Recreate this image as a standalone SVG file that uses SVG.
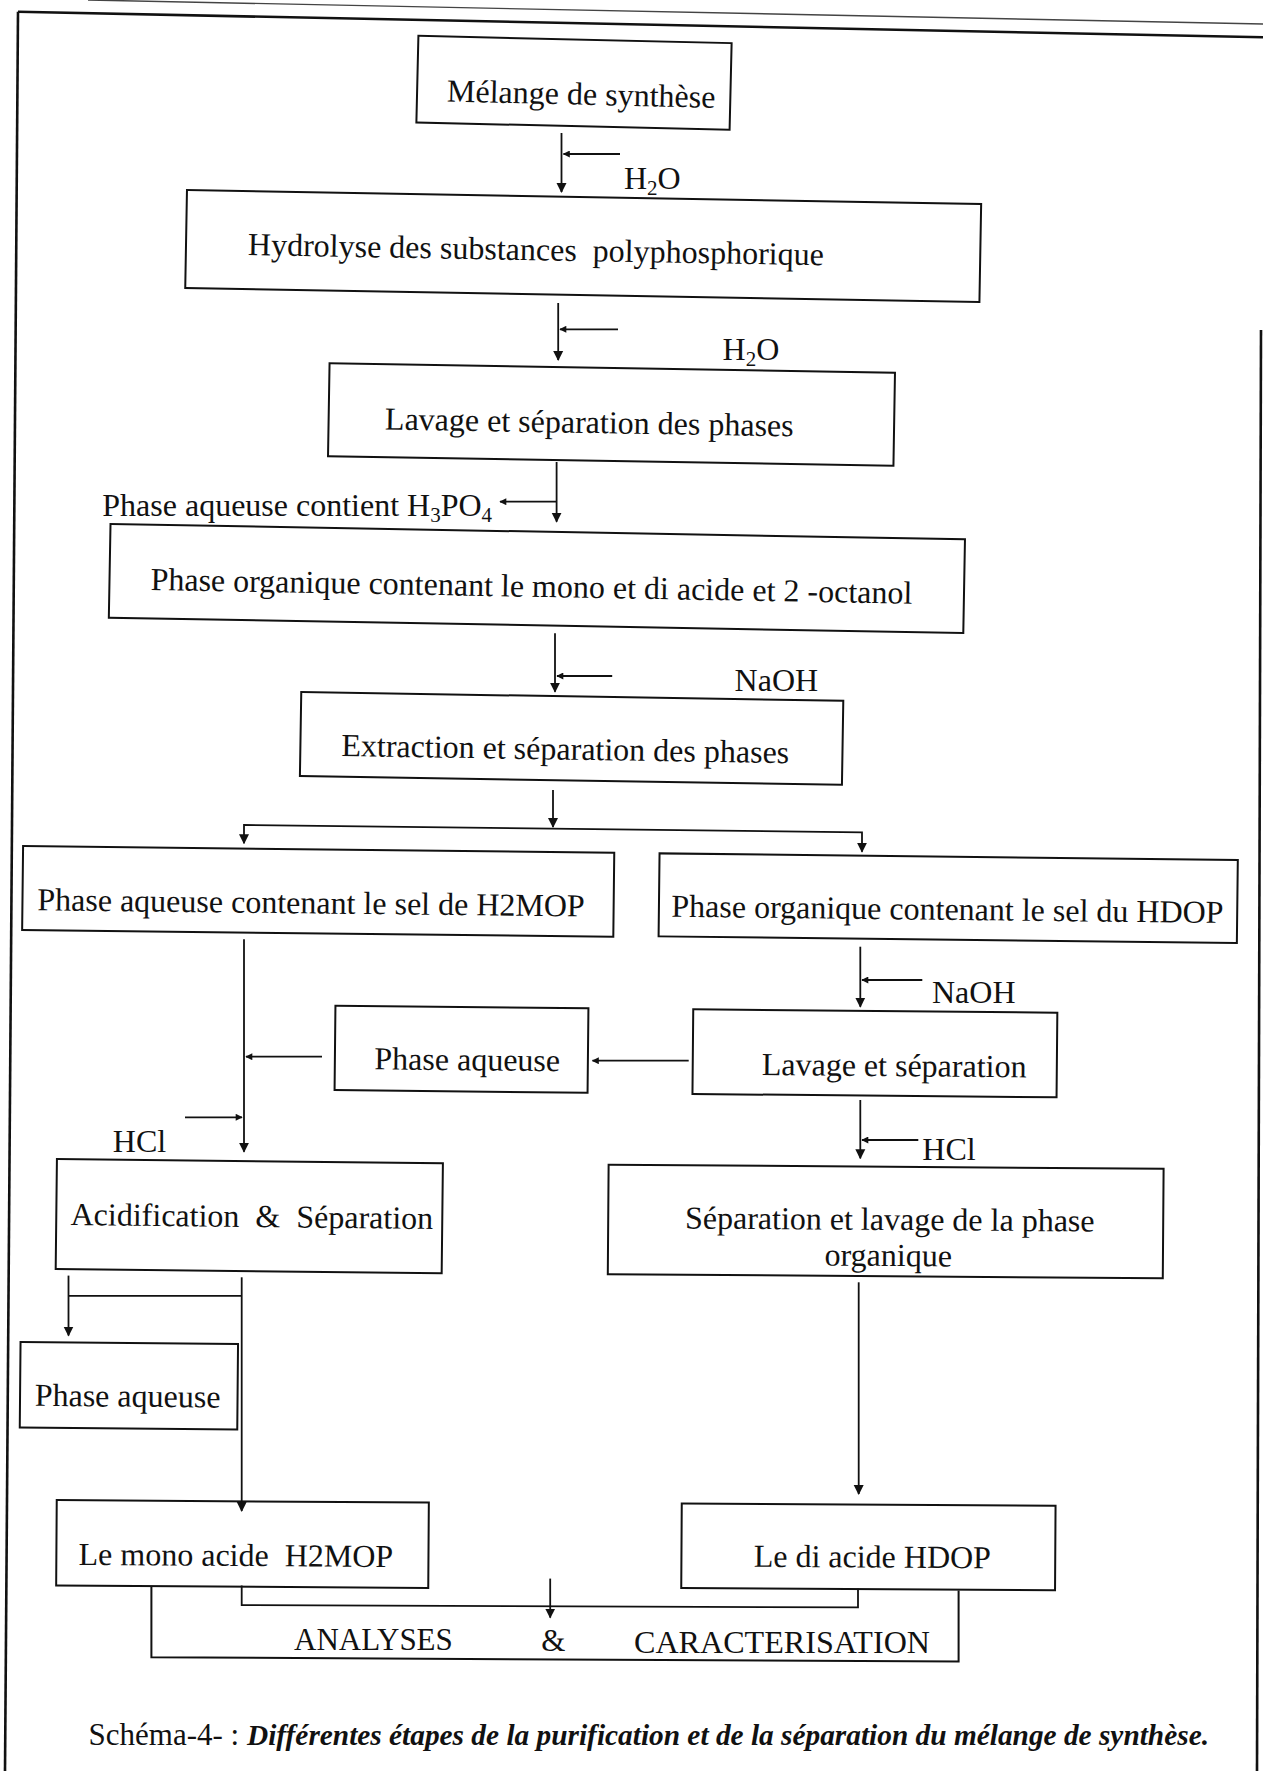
<svg xmlns="http://www.w3.org/2000/svg" width="1263" height="1771" viewBox="0 0 1263 1771" xml:space="preserve">
<defs>
<style>
.box{fill:none;stroke:#111;stroke-width:2}
.ln{fill:none;stroke:#111;stroke-width:1.8}
.fr{fill:none;stroke:#111;stroke-width:2.6}
text{font-family:"Liberation Serif","Times New Roman",serif;font-size:32px;fill:#111;white-space:pre}
.c{text-anchor:middle}
.cap{font-size:31px}
.capi{font-size:29px;font-style:italic;font-weight:bold}
</style>
<marker id="ah" viewBox="0 0 10 10" refX="9" refY="5" markerWidth="10" markerHeight="11" markerUnits="userSpaceOnUse" orient="auto-start-reverse"><path d="M0,0 L10,5 L0,10 z" fill="#111"/></marker>
<marker id="ahs" viewBox="0 0 10 10" refX="9" refY="5" markerWidth="8" markerHeight="7" markerUnits="userSpaceOnUse" orient="auto"><path d="M0,0 L10,5 L0,10 z" fill="#111"/></marker>
</defs>
<rect x="0" y="0" width="1263" height="1771" fill="#fff"/>

<g id="frame">
<path d="M88,0 L1263,24" fill="none" stroke="#444" stroke-width="1.4"/>
<path class="fr" d="M18,11.7 L1263,37.3"/>
<path class="fr" d="M18,11.7 L5,1771"/>
<path class="fr" d="M1261,330 L1257,1771"/>
</g>

<g id="n1" transform="rotate(1.34 574 82.8)">
<rect class="box" x="417.35" y="39.45" width="313.3" height="86.7"/>
<text class="c" x="581.5" y="104.5">Mélange de synthèse</text>
</g>

<g id="n2" transform="rotate(1.01 583.2 246)">
<rect class="box" x="186.05" y="197" width="794.3" height="98"/>
<text class="c" x="536" y="261">Hydrolyse des substances  polyphosphorique</text>
</g>

<g id="n3" transform="rotate(0.95 611.5 414.5)">
<rect class="box" x="328.75" y="368" width="565.5" height="93"/>
<text class="c" x="589.5" y="433.3">Lavage et séparation des phases</text>
</g>

<g id="n4" transform="rotate(1.03 536.9 578.5)">
<rect class="box" x="109.6" y="531.65" width="854.6" height="93.7"/>
<text class="c" x="531.6" y="596.9">Phase organique contenant le mono et di acide et 2 -octanol</text>
</g>

<g id="n5" transform="rotate(0.92 571.6 738.4)">
<rect class="box" x="300.55" y="696.4" width="542.1" height="84"/>
<text class="c" x="565.5" y="759.7">Extraction et séparation des phases</text>
</g>

<g id="n6" transform="rotate(0.65 318.2 891.4)">
<rect class="box" x="22.6" y="849.4" width="591.2" height="84"/>
<text class="c" x="311.2" y="913.5">Phase aqueuse contenant le sel de H2MOP</text>
</g>

<g id="n7" transform="rotate(0.66 948.2 898.2)">
<rect class="box" x="659.05" y="856.7" width="578.3" height="83"/>
<text class="c" x="947.6" y="919.9">Phase organique contenant le sel du HDOP</text>
</g>

<g id="n8" transform="rotate(0.59 461.5 1049.2)">
<rect class="box" x="335" y="1007" width="253" height="84.4"/>
<text class="c" x="467.4" y="1070.2">Phase aqueuse</text>
</g>

<g id="n9" transform="rotate(0.53 874.9 1053.3)">
<rect class="box" x="692.85" y="1010.95" width="364.1" height="84.7"/>
<text class="c" x="894.3" y="1076">Lavage et séparation</text>
</g>

<g id="n10" transform="rotate(0.64 249.3 1216.1)">
<rect class="box" x="56.3" y="1161.1" width="386" height="110"/>
<text class="c" x="251.9" y="1227">Acidification  &amp;  Séparation</text>
</g>

<g id="n11" transform="rotate(0.43 885.7 1221.5)">
<rect class="box" x="608.2" y="1166.75" width="555" height="109.5"/>
<text class="c" x="889.8" y="1230">Séparation et lavage de la phase</text>
<text class="c" x="888.5" y="1266">organique</text>
</g>

<g id="n12" transform="rotate(0.52 128.9 1385.7)">
<rect class="box" x="20.15" y="1342.95" width="217.5" height="85.5"/>
<text class="c" x="127.7" y="1406.7">Phase aqueuse</text>
</g>

<g id="n13" transform="rotate(0.39 242.5 1544)">
<rect class="box" x="56.45" y="1501.35" width="372.1" height="85.3"/>
<text class="c" x="236" y="1566">Le mono acide  H2MOP</text>
</g>

<g id="n14" transform="rotate(0.35 868.4 1546.9)">
<rect class="box" x="681.5" y="1504.65" width="373.8" height="84.5"/>
<text class="c" x="872.4" y="1567.5">Le di acide HDOP</text>
</g>

<g id="n15">
<path class="box" d="M151.4,1587.1 L151.4,1657.2 L958.6,1661.6 L958.6,1590.5"/>
<text style="font-size:31px" x="294" y="1650">ANALYSES</text>
<text style="font-size:31px" x="541.3" y="1651">&amp;</text>
<text style="font-size:31px" x="634" y="1652.5" textLength="296" lengthAdjust="spacingAndGlyphs">CARACTERISATION</text>
</g>

<g id="connectors">
<path class="ln" d="M561.5,133 V192" marker-end="url(#ah)"/>
<path class="ln" d="M620,154 H563.5" marker-end="url(#ahs)"/>
<path class="ln" d="M558.2,303 V360" marker-end="url(#ah)"/>
<path class="ln" d="M618,329.3 H560" marker-end="url(#ahs)"/>
<path class="ln" d="M556.6,462 V521.7" marker-end="url(#ah)"/>
<path class="ln" d="M556,501.7 H500" marker-end="url(#ahs)"/>
<path class="ln" d="M555,633.3 V691.7" marker-end="url(#ah)"/>
<path class="ln" d="M612.2,676 H557" marker-end="url(#ahs)"/>
<path class="ln" d="M553,790 V827" marker-end="url(#ah)"/>
<path class="ln" d="M244,843.3 V825 L862,832.3 V851.7" marker-start="url(#ah)" marker-end="url(#ah)"/>
<path class="ln" d="M244,939.3 V1151.7" marker-end="url(#ah)"/>
<path class="ln" d="M322,1056.7 H246" marker-end="url(#ahs)"/>
<path class="ln" d="M185,1117.3 H242" marker-end="url(#ahs)"/>
<path class="ln" d="M688.7,1060.7 H592.5" marker-end="url(#ahs)"/>
<path class="ln" d="M860.3,946.7 V1006.7" marker-end="url(#ah)"/>
<path class="ln" d="M922.3,980 H862" marker-end="url(#ahs)"/>
<path class="ln" d="M860.3,1100 V1158.3" marker-end="url(#ah)"/>
<path class="ln" d="M918.3,1140 H862" marker-end="url(#ahs)"/>
<path class="ln" d="M241.7,1277.3 V1510.9" marker-end="url(#ah)"/>
<path class="ln" d="M241.7,1295.9 H68.5"/>
<path class="ln" d="M68.5,1275.6 V1335.5" marker-end="url(#ah)"/>
<path class="ln" d="M858.7,1282.3 V1494" marker-end="url(#ah)"/>
<path class="ln" d="M241.7,1585.4 V1605 L858,1607.4 V1588.8"/>
<path class="ln" d="M550.2,1578.6 V1617.6" marker-end="url(#ah)"/>
</g>

<g id="labels">
<text x="624" y="189">H<tspan dy="6" font-size="21">2</tspan><tspan dy="-6">O</tspan></text>
<text x="722.6" y="360">H<tspan dy="6" font-size="21">2</tspan><tspan dy="-6">O</tspan></text>
<text x="102.3" y="516">Phase aqueuse contient H<tspan dy="6" font-size="21">3</tspan><tspan dy="-6">PO</tspan><tspan dy="6" font-size="21">4</tspan></text>
<text x="734.6" y="690.7">NaOH</text>
<text x="932" y="1003.3">NaOH</text>
<text x="112.8" y="1151.7">HCl</text>
<text x="922.3" y="1160">HCl</text>
</g>

<g id="caption">
<text class="cap" x="88.6" y="1745">Schéma-4- :</text>
<text class="capi" x="247" y="1745" textLength="962" lengthAdjust="spacingAndGlyphs">Différentes étapes de la purification et de la séparation du mélange de synthèse.</text>
</g>
</svg>
